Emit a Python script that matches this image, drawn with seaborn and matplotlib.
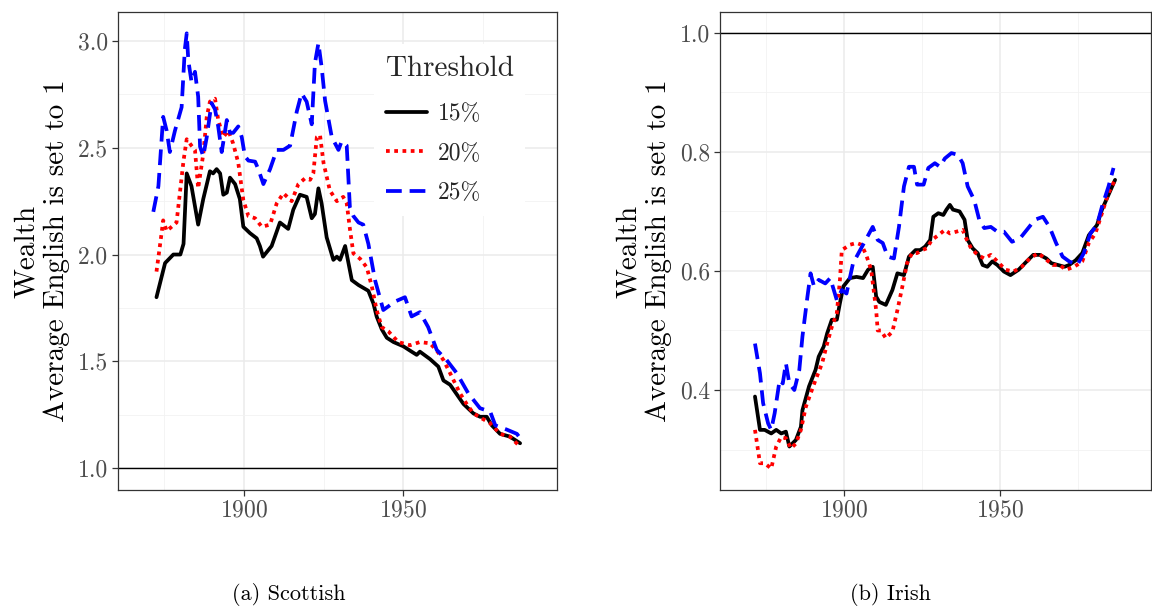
import numpy as np
import pandas as pd
import matplotlib
matplotlib.use("Agg")
import matplotlib.pyplot as plt
import seaborn as sns
from matplotlib.ticker import FixedLocator, FormatStrFormatter

# ---------------- data ----------------
thresholds = ["15%", "20%", "25%"]

sc15_year = [1872.5, 1875.2, 1877.8, 1880.0, 1881.0, 1882.0, 1883.5, 1885.6, 1887.2, 1889.3, 1890.3, 1891.4,
             1892.5, 1893.5, 1894.6, 1895.6, 1897.2, 1898.7, 1899.8, 1901.9, 1904.0, 1905.0, 1906.0, 1908.7,
             1911.3, 1913.9, 1915.5, 1917.6, 1919.7, 1921.3, 1922.3, 1923.4, 1924.4, 1926.0, 1928.1, 1929.2,
             1930.2, 1931.8, 1933.9, 1936.0, 1939.1, 1940.7, 1941.7, 1943.3, 1944.9, 1947.0, 1950.1, 1952.7,
             1954.3, 1955.3, 1958.5, 1961.1, 1962.7, 1964.8, 1969.0, 1972.1, 1974.2, 1976.3, 1977.9, 1980.5,
             1983.6, 1986.8]
sc15_val = [1.80, 1.96, 2.00, 2.00, 2.05, 2.38, 2.32, 2.14, 2.26, 2.39, 2.38, 2.40,
            2.38, 2.28, 2.29, 2.36, 2.33, 2.26, 2.13, 2.10, 2.076, 2.04, 1.99, 2.04,
            2.15, 2.12, 2.21, 2.28, 2.27, 2.17, 2.19, 2.31, 2.24, 2.08, 1.975, 1.99,
            1.975, 2.04, 1.88, 1.857, 1.83, 1.77, 1.71, 1.65, 1.61, 1.59, 1.57, 1.545,
            1.53, 1.545, 1.51, 1.475, 1.41, 1.39, 1.30, 1.256, 1.24, 1.24, 1.20, 1.16,
            1.147, 1.116]

sc20_year = [1872.5, 1874.1, 1874.6, 1875.7, 1878.8, 1881.0, 1882.0, 1883.5, 1884.6, 1885.6, 1887.2, 1888.3,
             1889.3, 1890.9, 1891.9, 1893.5, 1895.1, 1896.6, 1898.2, 1899.8, 1901.4, 1903.5, 1905.6, 1908.2,
             1910.3, 1912.4, 1915.0, 1917.1, 1919.2, 1920.8, 1921.8, 1922.9, 1923.9, 1925.0, 1927.0, 1929.2,
             1931.2, 1932.3, 1933.3, 1934.4, 1936.5, 1938.6, 1940.2, 1941.7, 1943.3, 1945.4, 1948.5, 1952.2,
             1955.3, 1958.5, 1960.6, 1962.7, 1964.8, 1967.9, 1970.0, 1972.1, 1974.7, 1977.4, 1980.5, 1983.6,
             1986.8]
sc20_val = [1.92, 2.10, 2.16, 2.11, 2.15, 2.44, 2.54, 2.51, 2.49, 2.31, 2.47, 2.645,
            2.716, 2.73, 2.63, 2.55, 2.58, 2.52, 2.43, 2.255, 2.18, 2.17, 2.13, 2.14,
            2.24, 2.287, 2.25, 2.33, 2.357, 2.35, 2.38, 2.55, 2.56, 2.43, 2.30, 2.25,
            2.27, 2.24, 2.12, 2.005, 1.98, 1.94, 1.85, 1.74, 1.66, 1.64, 1.59, 1.575,
            1.59, 1.584, 1.55, 1.506, 1.444, 1.35, 1.30, 1.256, 1.233, 1.21, 1.16, 1.147,
            1.10]

sc25_year = [1871.5, 1873.1, 1874.6, 1875.7, 1876.7, 1878.3, 1880.4, 1881.4, 1882.0, 1882.5, 1883.5, 1884.6,
             1885.6, 1886.2, 1887.2, 1888.3, 1889.8, 1890.9, 1891.9, 1893.0, 1894.6, 1895.6, 1896.6, 1898.2,
             1899.3, 1900.3, 1901.4, 1903.5, 1904.5, 1906.1, 1908.2, 1910.3, 1912.4, 1914.5, 1916.6, 1918.1,
             1919.7, 1921.3, 1922.3, 1923.4, 1924.4, 1925.5, 1927.6, 1929.7, 1930.7, 1932.3, 1933.3, 1934.4,
             1936.0, 1937.5, 1939.1, 1941.2, 1943.8, 1947.5, 1950.6, 1952.7, 1955.3, 1957.9, 1960.6, 1963.7,
             1966.9, 1970.5, 1974.2, 1977.4, 1979.0, 1982.6, 1985.8, 1987.3]
sc25_val = [2.20, 2.32, 2.645, 2.58, 2.48, 2.58, 2.69, 2.96, 3.036, 2.91, 2.81, 2.856,
            2.74, 2.505, 2.46, 2.55, 2.71, 2.68, 2.60, 2.48, 2.63, 2.57, 2.57, 2.60,
            2.55, 2.46, 2.44, 2.435, 2.40, 2.33, 2.40, 2.49, 2.49, 2.51, 2.67, 2.755,
            2.716, 2.61, 2.896, 2.99, 2.88, 2.72, 2.55, 2.49, 2.53, 2.51, 2.22, 2.18,
            2.15, 2.14, 2.05, 1.88, 1.74, 1.78, 1.80, 1.71, 1.73, 1.66, 1.553, 1.506,
            1.444, 1.35, 1.28, 1.264, 1.20, 1.18, 1.16, 1.13]

ir15_year = [1871.6, 1873.2, 1874.7, 1876.8, 1878.4, 1880.0, 1881.5, 1882.6, 1884.7, 1886.3, 1886.8, 1888.9,
             1891.0, 1892.0, 1893.6, 1894.7, 1896.2, 1897.8, 1898.8, 1899.9, 1902.0, 1904.1, 1906.2, 1907.8,
             1909.3, 1910.4, 1911.4, 1913.5, 1915.6, 1917.2, 1919.3, 1920.9, 1923.0, 1924.5, 1926.1, 1927.7,
             1928.7, 1930.3, 1931.9, 1932.9, 1934.0, 1935.0, 1937.1, 1938.7, 1939.7, 1941.3, 1942.9, 1944.5,
             1946.0, 1947.6, 1949.2, 1951.3, 1953.4, 1956.0, 1958.6, 1960.7, 1962.8, 1964.9, 1966.5, 1968.6,
             1970.7, 1972.2, 1974.3, 1976.4, 1978.5, 1981.1, 1982.7, 1984.8, 1986.9]
ir15_val = [0.389, 0.333, 0.333, 0.327, 0.333, 0.327, 0.330, 0.305, 0.316, 0.338, 0.366, 0.406,
            0.434, 0.456, 0.473, 0.495, 0.518, 0.518, 0.546, 0.574, 0.588, 0.590, 0.588, 0.602,
            0.607, 0.557, 0.548, 0.543, 0.568, 0.596, 0.593, 0.624, 0.635, 0.635, 0.641, 0.652,
            0.691, 0.697, 0.694, 0.703, 0.711, 0.703, 0.700, 0.686, 0.652, 0.638, 0.630, 0.610,
            0.607, 0.616, 0.610, 0.599, 0.593, 0.602, 0.616, 0.627, 0.627, 0.621, 0.613, 0.610,
            0.607, 0.610, 0.618, 0.630, 0.660, 0.677, 0.703, 0.728, 0.753]

ir20_year = [1871.6, 1873.2, 1874.7, 1876.8, 1878.4, 1880.0, 1881.5, 1883.1, 1884.7, 1886.3, 1887.9, 1889.4,
             1891.0, 1893.1, 1894.7, 1896.2, 1897.8, 1898.8, 1899.4, 1902.0, 1904.1, 1905.7, 1907.2, 1908.8,
             1910.4, 1910.9, 1911.9, 1913.5, 1915.6, 1917.2, 1918.8, 1920.3, 1921.9, 1923.5, 1925.1, 1926.6,
             1928.2, 1930.3, 1932.4, 1934.0, 1936.1, 1938.1, 1939.2, 1940.8, 1942.9, 1945.0, 1947.1, 1949.2,
             1951.8, 1954.4, 1957.0, 1959.6, 1962.3, 1964.4, 1967.0, 1969.1, 1971.2, 1973.8, 1976.4, 1978.5,
             1980.6, 1982.7, 1984.8, 1986.9]
ir20_val = [0.333, 0.277, 0.277, 0.268, 0.305, 0.321, 0.319, 0.302, 0.310, 0.333, 0.372, 0.394,
            0.417, 0.445, 0.478, 0.506, 0.529, 0.585, 0.635, 0.644, 0.647, 0.644, 0.627, 0.602,
            0.534, 0.500, 0.500, 0.487, 0.498, 0.534, 0.574, 0.613, 0.630, 0.630, 0.635, 0.638,
            0.652, 0.660, 0.669, 0.663, 0.666, 0.669, 0.655, 0.638, 0.627, 0.621, 0.627, 0.616,
            0.602, 0.599, 0.607, 0.621, 0.630, 0.621, 0.610, 0.610, 0.602, 0.607, 0.616, 0.647,
            0.663, 0.697, 0.731, 0.753]

ir25_year = [1871.6, 1873.2, 1874.2, 1875.8, 1876.8, 1877.9, 1879.5, 1880.5, 1881.5, 1882.6, 1884.2, 1885.8,
             1886.8, 1888.4, 1889.4, 1890.5, 1892.0, 1894.1, 1895.7, 1897.8, 1899.4, 1900.9, 1903.0, 1906.2,
             1909.3, 1910.9, 1912.5, 1914.1, 1916.1, 1917.7, 1919.3, 1920.9, 1922.5, 1923.5, 1925.6, 1927.1,
             1929.2, 1930.8, 1932.4, 1934.5, 1936.6, 1938.1, 1939.7, 1941.8, 1943.4, 1945.0, 1947.1, 1949.2,
             1951.3, 1953.9, 1956.5, 1959.1, 1961.2, 1963.8, 1965.9, 1968.0, 1970.1, 1972.2, 1974.8, 1976.9,
             1979.0, 1981.1, 1982.7, 1984.8, 1986.4]
ir25_val = [0.478, 0.428, 0.378, 0.344, 0.333, 0.361, 0.417, 0.411, 0.445, 0.411, 0.400, 0.434,
            0.490, 0.557, 0.596, 0.574, 0.585, 0.579, 0.588, 0.551, 0.568, 0.562, 0.613, 0.644,
            0.674, 0.652, 0.647, 0.624, 0.621, 0.674, 0.742, 0.775, 0.775, 0.745, 0.745, 0.773,
            0.781, 0.775, 0.789, 0.798, 0.795, 0.781, 0.742, 0.719, 0.686, 0.672, 0.674, 0.666,
            0.666, 0.649, 0.655, 0.672, 0.686, 0.691, 0.674, 0.647, 0.624, 0.616, 0.610, 0.630,
            0.663, 0.677, 0.708, 0.742, 0.773]

panel_titles = ["(a) Scottish", "(b) Irish"]
ylabel_text = "Wealth\nAverage English is set to 1"
legend_title = "Threshold"

# ---------------- style ----------------
sns.set_theme(style="whitegrid")
plt.rcParams["font.family"] = ["cmr10", "DejaVu Serif"]
plt.rcParams["axes.formatter.use_mathtext"] = True
plt.rcParams["mathtext.fontset"] = "cm"

colors = {"15%": "black", "20%": "#ff0000", "25%": "#0000ff"}
dash_patterns = {"20%": (1.0, 1.2), "25%": (4.2, 2.1)}
LW = 2.7

fig = plt.figure(figsize=(11.52, 6.08), dpi=100)
W, H = 1152, 608
axL = fig.add_axes([118 / W, (H - 490) / H, (557 - 118) / W, (490 - 12) / H])
axR = fig.add_axes([720 / W, (H - 490) / H, (1151 - 720) / W, (490 - 12) / H])

def make_df(years, vals, lab):
    return pd.DataFrame({"Year": years, "Value": vals, "Threshold": lab})

sc = [make_df(sc15_year, sc15_val, "15%"), make_df(sc20_year, sc20_val, "20%"), make_df(sc25_year, sc25_val, "25%")]
ir = [make_df(ir15_year, ir15_val, "15%"), make_df(ir20_year, ir20_val, "20%"), make_df(ir25_year, ir25_val, "25%")]

for ax, dfs in ((axL, sc), (axR, ir)):
    ax.axhline(1.0, color="black", lw=1.0, zorder=1)
    for d in dfs:
        lab = d["Threshold"].iloc[0]
        sns.lineplot(data=d, x="Year", y="Value", ax=ax, color=colors[lab], lw=LW,
                     sort=False, estimator=None, label=lab, legend=False)
        ln = ax.lines[-1]
        if lab in dash_patterns:
            ln.set_linestyle((0, dash_patterns[lab]))
            ln.set_dash_capstyle("butt")
    ax.set_xlim(1860.4, 1998.4)
    ax.xaxis.set_major_locator(FixedLocator([1900, 1950]))
    ax.xaxis.set_minor_locator(FixedLocator([1875, 1925, 1975]))
    ax.set_xlabel("")
    ax.set_ylabel(ylabel_text, fontsize=21, color="black", linespacing=1.15, labelpad=6)
    ax.grid(which="major", color="#ebebeb", lw=1.1)
    ax.grid(which="minor", color="#f2f2f2", lw=0.6)
    for s in ax.spines.values():
        s.set_color("#333333")
        s.set_linewidth(0.9)
        s.set_visible(True)
    ax.tick_params(axis="both", which="major", length=4, width=0.9, color="#333333",
                   labelsize=17, labelcolor="#4d4d4d", pad=3, bottom=True, left=True)
    ax.tick_params(axis="both", which="minor", length=0)
    ax.set_facecolor("white")

axL.set_ylim(0.897, 3.136)
axL.yaxis.set_major_locator(FixedLocator([1.0, 1.5, 2.0, 2.5, 3.0]))
axL.yaxis.set_minor_locator(FixedLocator([1.25, 1.75, 2.25, 2.75]))
axL.yaxis.set_major_formatter(FormatStrFormatter("%.1f"))

axR.set_ylim(0.232, 1.035)
axR.yaxis.set_major_locator(FixedLocator([0.4, 0.6, 0.8, 1.0]))
axR.yaxis.set_minor_locator(FixedLocator([0.3, 0.5, 0.7, 0.9]))
axR.yaxis.set_major_formatter(FormatStrFormatter("%.1f"))

# legend
handles = axL.lines[1:4]
leg = axL.legend(handles=handles, labels=thresholds, title=legend_title,
                 loc="upper left", bbox_to_anchor=((362 - 118) / (557 - 118), 1 - (32 - 12) / (490 - 12)),
                 frameon=True, fancybox=False, framealpha=1.0, edgecolor="white",
                 fontsize=17, title_fontsize=21, handlelength=1.75, handletextpad=0.45,
                 labelspacing=0.75, borderpad=0.5, alignment="left")
leg.get_frame().set_linewidth(0)
leg._legend_box.sep = 15

fig.text(289 / W, 1 - 594 / H, panel_titles[0], ha="center", va="center", fontsize=16, color="black")
fig.text(890 / W, 1 - 594 / H, panel_titles[1], ha="center", va="center", fontsize=16, color="black")

fig.savefig("out.png", dpi=100, facecolor="white")
